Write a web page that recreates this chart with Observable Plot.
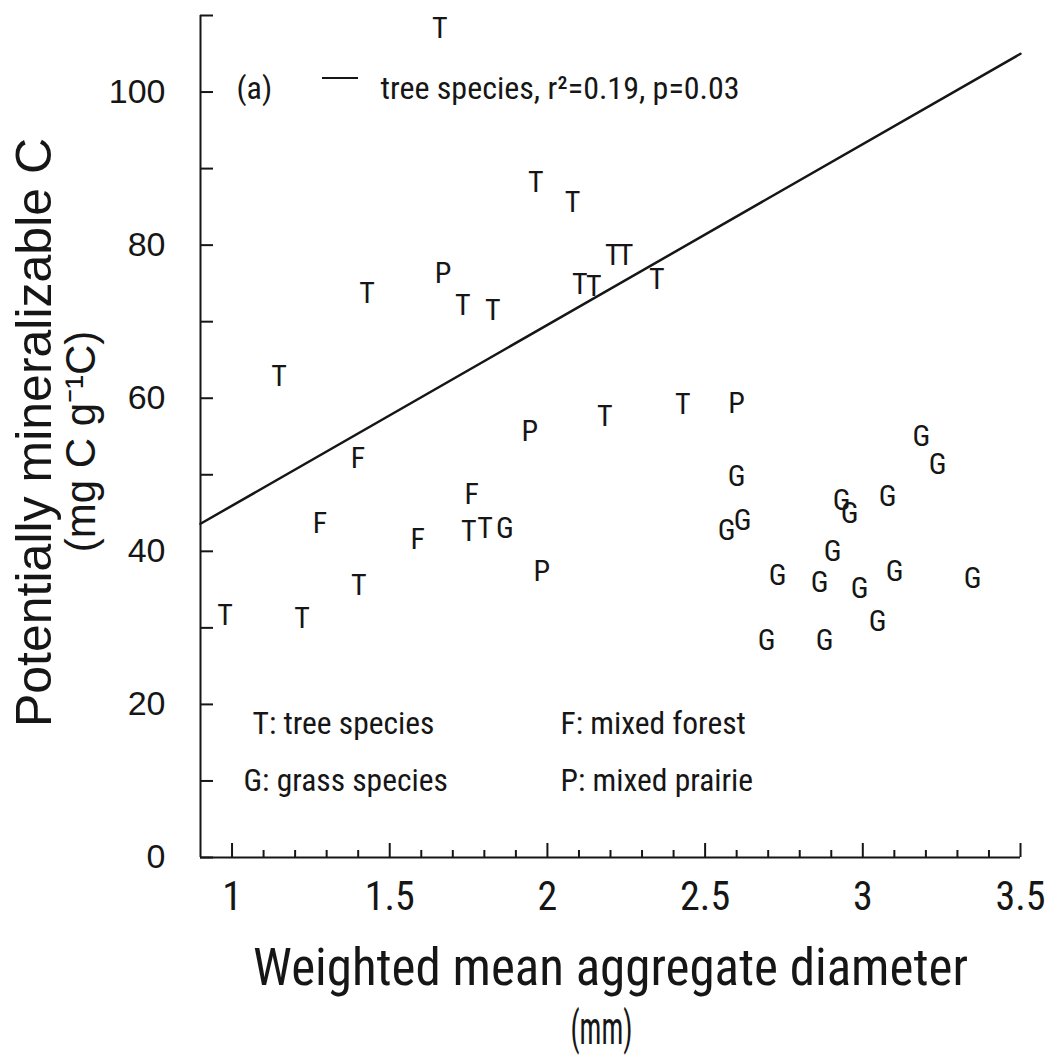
<!DOCTYPE html>
<html><head><meta charset="utf-8">
<script src="https://cdn.jsdelivr.net/npm/d3@7"></script>
<script src="https://cdn.jsdelivr.net/npm/@observablehq/plot@0.6"></script>
<style>
html,body{margin:0;padding:0;background:#fff;}
</style>
</head><body><div id="chart"></div>
<script>
// T: tree species
const treeX = [1.659, 1.963, 2.080, 2.207, 2.248, 2.103, 2.147, 2.347, 1.428, 1.732, 1.827, 1.149, 2.182, 2.429, 1.751, 1.802, 1.402, 0.978, 1.222];
const treeY = [108.3, 88.2, 85.6, 78.6, 78.6, 74.9, 74.6, 75.5, 73.7, 72.1, 71.5, 62.9, 57.6, 59.2, 42.6, 43.0, 35.5, 31.6, 31.2];
// F: mixed forest
const forestX = [1.399, 1.760, 1.279, 1.589];
const forestY = [52.2, 47.5, 43.6, 41.6];
// P: mixed prairie
const prairieX = [1.669, 1.944, 2.600, 1.982];
const prairieY = [76.3, 55.7, 59.3, 37.4];
// G: grass species
const grassX = [1.865, 2.600, 2.619, 2.568, 3.186, 3.237, 3.079, 2.933, 2.958, 2.904, 2.730, 2.863, 2.990, 3.101, 3.348, 3.047, 2.695, 2.879];
const grassY = [43.0, 49.8, 44.0, 42.7, 55.0, 51.4, 47.2, 46.6, 45.0, 40.0, 36.8, 35.9, 35.2, 37.4, 36.4, 30.9, 28.3, 28.3];
// regression line for tree species (end points)
const fitX = [0.9, 3.5];
const fitY = [43.6, 105.0];
// axes
const xDomain = [0.9, 3.5];
const yDomain = [0, 110];
const xMajorTicks = [1, 1.5, 2, 2.5, 3, 3.5];
const xMinorTicks = [1.1, 1.2, 1.3, 1.4, 1.6, 1.7, 1.8, 1.9, 2.1, 2.2, 2.3, 2.4, 2.6, 2.7, 2.8, 2.9, 3.1, 3.2, 3.3, 3.4];
const yTicks = [0, 10, 20, 30, 40, 50, 60, 70, 80, 90, 100, 110];
const yTickLabels = [0, 20, 40, 60, 80, 100];
const xTitle = "Weighted mean aggregate diameter";
const xUnit = "(mm)";
const yTitle = "Potentially mineralizable C";
const yUnit = "(mg C g\u207B\u00B9C)";
const legendFit = "tree species, r\u00B2=0.19, p=0.03";
const legendCodes = ["T: tree species", "G: grass species", "F: mixed forest", "P: mixed prairie"];

const fontN = "'Liberation Sans Narrow','Arial Narrow','Roboto Condensed','DejaVu Sans Condensed',sans-serif";
const fontR = "'Liberation Sans',Arial,Helvetica,sans-serif";
const ink = "#161616";

const points = [
  ...treeX.map((x, i) => ({x, y: treeY[i], code: "T"})),
  ...forestX.map((x, i) => ({x, y: forestY[i], code: "F"})),
  ...prairieX.map((x, i) => ({x, y: prairieY[i], code: "P"})),
  ...grassX.map((x, i) => ({x, y: grassY[i], code: "G"}))
];
const fit = fitX.map((x, i) => ({x, y: fitY[i]}));

// short line sample for the legend "— tree species"
function legendDash(index, scales, values, dims) {
  const l = document.createElementNS("http://www.w3.org/2000/svg", "line");
  l.setAttribute("x1", dims.marginLeft + 122);
  l.setAttribute("x2", dims.marginLeft + 158);
  l.setAttribute("y1", dims.marginTop + 63);
  l.setAttribute("y2", dims.marginTop + 63);
  l.setAttribute("stroke", ink);
  l.setAttribute("stroke-width", 2);
  return l;
}

const chart = Plot.plot({
  width: 1049,
  height: 1062,
  marginLeft: 200,
  marginRight: 29,
  marginTop: 15,
  marginBottom: 205,
  x: {domain: xDomain},
  y: {domain: yDomain},
  style: {fontFamily: fontR, color: ink, background: "#fff", overflow: "visible"},
  marks: [
    // axis lines
    Plot.ruleX([xDomain[0]], {stroke: ink, strokeWidth: 2}),
    Plot.ruleY([yDomain[0]], {stroke: ink, strokeWidth: 2}),
    // inward ticks
    Plot.axisX(xMinorTicks, {tickSize: -7, tickFormat: () => "", strokeWidth: 2, stroke: ink, label: null}),
    Plot.axisX(xMajorTicks, {tickSize: -14, tickFormat: () => "", strokeWidth: 2, stroke: ink, label: null}),
    Plot.axisY(yTicks, {tickSize: -13, tickFormat: () => "", strokeWidth: 2, stroke: ink, label: null}),
    // tick labels
    Plot.axisX(xMajorTicks, {tickSize: 0, tickPadding: 24, fontSize: 40, fontFamily: fontN, fill: ink, label: null, tickFormat: d => String(d)}),
    Plot.axisY(yTickLabels, {tickSize: 0, tickPadding: 35, fontSize: 34, fontFamily: fontR, fill: ink, label: null, tickFormat: d => String(d)}),
    // axis titles
    Plot.text([xTitle], {frameAnchor: "bottom", dy: 127, fontSize: 51, fontFamily: fontN, fill: ink}),
    Plot.text([xUnit], {frameAnchor: "bottom", dx: -9, dy: 186, fontSize: 47, fontFamily: fontN, fill: ink}),
    Plot.text([yTitle], {frameAnchor: "left", textAnchor: "middle", rotate: -90, dx: -166, dy: -4, fontSize: 50, fontFamily: fontR, fill: ink}),
    Plot.text([yUnit], {frameAnchor: "left", textAnchor: "middle", rotate: -90, dx: -119, dy: 5, fontSize: 42, fontFamily: fontR, fill: ink}),
    // regression line
    Plot.line(fit, {x: "x", y: "y", stroke: ink, strokeWidth: 2.5}),
    // data letters
    Plot.text(points, {x: "x", y: "y", text: "code", fontSize: 30, fontFamily: fontN, fill: ink}),
    // top legend
    Plot.text(["(a)"], {frameAnchor: "top-left", textAnchor: "start", dx: 36, dy: 61, fontSize: 32, fontFamily: fontN, fill: ink}),
    legendDash,
    Plot.text([legendFit], {frameAnchor: "top-left", textAnchor: "start", dx: 180, dy: 61, fontSize: 32, fontFamily: fontN, fill: ink}),
    // code legend
    Plot.text([legendCodes[0]], {frameAnchor: "bottom-left", textAnchor: "start", dx: 52, dy: -124, fontSize: 31.5, fontFamily: fontN, fill: ink}),
    Plot.text([legendCodes[1]], {frameAnchor: "bottom-left", textAnchor: "start", dx: 43, dy: -67, fontSize: 31.5, fontFamily: fontN, fill: ink}),
    Plot.text([legendCodes[2]], {frameAnchor: "bottom-left", textAnchor: "start", dx: 360, dy: -124, fontSize: 31.5, fontFamily: fontN, fill: ink}),
    Plot.text([legendCodes[3]], {frameAnchor: "bottom-left", textAnchor: "start", dx: 360, dy: -67, fontSize: 31.5, fontFamily: fontN, fill: ink})
  ]
});
// condense the unit label like the original typesetting
d3.select(chart).selectAll("text").filter(function() { return this.textContent === xUnit; })
  .attr("textLength", 62).attr("lengthAdjust", "spacingAndGlyphs");
document.getElementById("chart").appendChild(chart);
</script>
</body></html>
